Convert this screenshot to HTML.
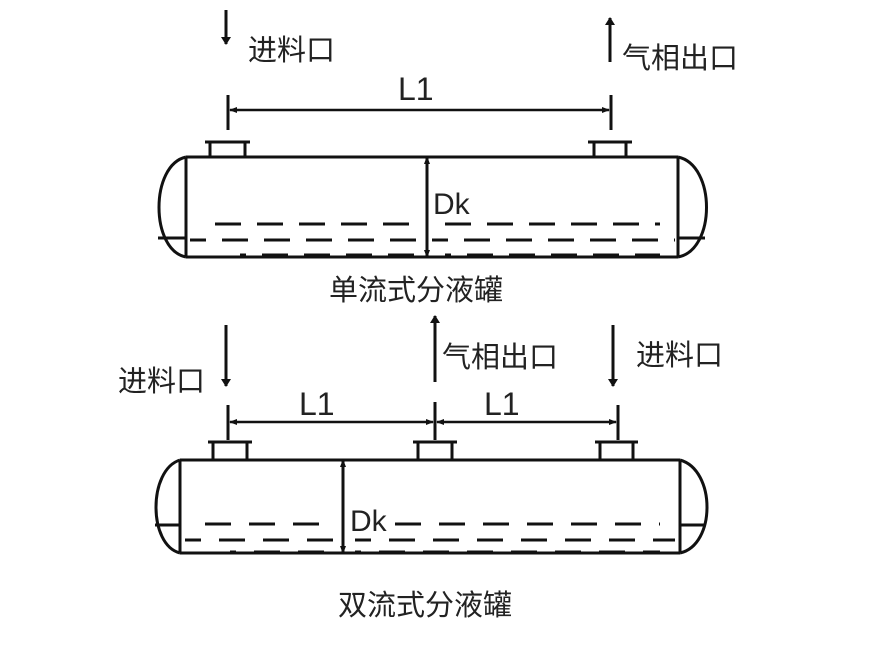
<!DOCTYPE html>
<html><head><meta charset="utf-8"><style>
body{margin:0;background:#fff}
svg text{font-family:"Liberation Sans","Noto Sans CJK SC",sans-serif;fill:#222}
</style></head><body>
<svg width="886" height="641" viewBox="0 0 886 641" xmlns="http://www.w3.org/2000/svg">
<defs>
<marker id="ah" markerWidth="8" markerHeight="10" refX="7" refY="5" orient="auto" markerUnits="userSpaceOnUse"><path d="M0,0 L8,5 L0,10 Z" fill="#111"/></marker>
<marker id="da" markerWidth="8" markerHeight="8" refX="7" refY="4" orient="auto-start-reverse" markerUnits="userSpaceOnUse"><path d="M0,1 L8,4 L0,7 Z" fill="#111"/></marker>
</defs>
<g stroke="#111" stroke-width="3" fill="none">
<line x1="226" y1="10" x2="226" y2="44" marker-end="url(#ah)"/>
<line x1="610" y1="62" x2="610" y2="18" marker-end="url(#ah)"/>
<line x1="228" y1="95" x2="228" y2="130"/>
<line x1="611" y1="95" x2="611" y2="130"/>
<line x1="230" y1="110" x2="609" y2="110" stroke-width="2.5" marker-start="url(#da)" marker-end="url(#da)"/>
<path d="M205,142 H250 M210,142 V157 M245,142 V157"/>
<path d="M588,142 H632 M594,142 V157 M626,142 V157"/>
<path d="M186,157 H678 M186,257 H678 M186,157 V257 M678,157 V257"/>
<path d="M186,157 C150,165 150,250 186,257"/>
<path d="M678,157 C716,165 716,250 678,257"/>
<path d="M158,238 H186 M678,238 H705"/>
<line x1="427" y1="157" x2="427" y2="257" marker-start="url(#da)" marker-end="url(#da)"/>
<g stroke-width="3" stroke-dasharray="26,16">
<path d="M215,224 H420 M445,224 H660"/>
<path d="M190,240 H420 M432,240 H675" stroke-dashoffset="10"/>
<path d="M240,255 H420 M445,255 H660" stroke-dashoffset="20"/>
</g>
<line x1="226" y1="325" x2="226" y2="386" marker-end="url(#ah)"/>
<line x1="435" y1="382" x2="435" y2="316" marker-end="url(#ah)"/>
<line x1="613" y1="325" x2="613" y2="386" marker-end="url(#ah)"/>
<line x1="228" y1="405" x2="228" y2="440"/>
<line x1="435" y1="402" x2="435" y2="440"/>
<line x1="618" y1="405" x2="618" y2="440"/>
<line x1="230" y1="422" x2="433" y2="422" stroke-width="2.5" marker-start="url(#da)" marker-end="url(#da)"/>
<line x1="437" y1="422" x2="616" y2="422" stroke-width="2.5" marker-start="url(#da)" marker-end="url(#da)"/>
<path d="M208,442 H252 M213,442 V460 M247,442 V460"/>
<path d="M413,442 H457 M418,442 V460 M452,442 V460"/>
<path d="M595,442 H638 M600,442 V460 M633,442 V460"/>
<path d="M180,460 H680 M180,553 H680 M180,460 V553 M680,460 V553"/>
<path d="M180,460 C148,470 148,545 180,553"/>
<path d="M680,460 C716,470 716,545 680,553"/>
<path d="M155,525 H180 M680,525 H706"/>
<line x1="343" y1="460" x2="343" y2="553" marker-start="url(#da)" marker-end="url(#da)"/>
<g stroke-width="3" stroke-dasharray="26,18">
<path d="M205,524 H335 M395,524 H660"/>
<path d="M185,540 H335 M355,540 H675" stroke-dashoffset="10"/>
<path d="M230,552 H335 M355,552 H660" stroke-dashoffset="20"/>
</g>
</g>
<g font-size="29">
<text x="248" y="60">进料口</text>
<text x="622" y="68">气相出口</text>
<text x="398" y="100" font-size="32">L1</text>
<text x="433" y="214" font-size="30">Dk</text>
<text x="329" y="300">单流式分液罐</text>
<text x="118" y="391">进料口</text>
<text x="442" y="367">气相出口</text>
<text x="636" y="365">进料口</text>
<text x="299" y="415" font-size="32">L1</text>
<text x="484" y="415" font-size="32">L1</text>
<text x="350" y="531" font-size="30">Dk</text>
<text x="338" y="615">双流式分液罐</text>
</g>
</svg>
</body></html>
